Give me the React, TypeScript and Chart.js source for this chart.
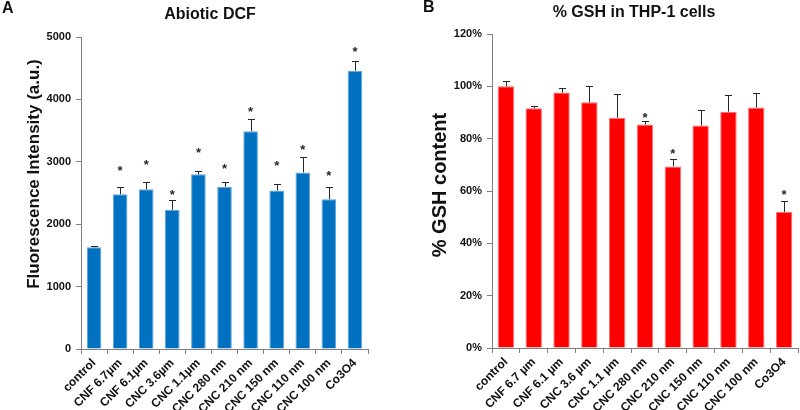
import React, { useEffect, useRef } from "react";
import { Chart, registerables } from "chart.js";
Chart.register(...registerables);

const FONT = "'Liberation Sans', Arial, Helvetica, sans-serif";

const categoriesA = ["control", "CNF 6.7µm", "CNF 6.1µm", "CNC 3.6µm", "CNC 1.1µm", "CNC 280 nm", "CNC 210 nm", "CNC 150 nm", "CNC 110 nm", "CNC 100 nm", "Co3O4"];
const valuesA = [1630, 2480, 2560, 2230, 2800, 2600, 3490, 2540, 2830, 2400, 4460];
const errorsA = [20, 115, 120, 150, 50, 80, 190, 110, 245, 190, 160];
const starsA = [null, 2900, 3000, 2520, 3190, 2940, 3850, 2980, 3240, 2830, 4820];
const ticksA = [0, 1000, 2000, 3000, 4000, 5000];

const categoriesB = ["control", "CNF 6.7 µm", "CNF 6.1 µm", "CNC 3.6 µm", "CNC 1.1 µm", "CNC 280 nm", "CNC 210 nm", "CNC 150 nm", "CNC 110 nm", "CNC 100 nm", "Co3O4"];
const valuesB = [100, 91.6, 97.6, 93.9, 88.0, 85.4, 69.4, 85.0, 90.3, 91.9, 52.0];
const errorsB = [1.9, 1.0, 1.6, 6.1, 9.0, 1.4, 2.8, 6.1, 6.2, 5.5, 4.2];
const starsB = [null, null, null, null, null, 89.2, 75.4, null, null, null, 59.8];
const ticksB = [0, 20, 40, 60, 80, 100, 120];

type PanelCfg = {
  key: string;
  categories: string[];
  values: number[];
  errors: number[];
  stars: (number | null)[];
  ticks: number[];
  percent: boolean;
  color: string;
  edge: string;
  barPct: number;
  title: string;
  titleX: number;
  titleY: number;
  panel: string;
  panelX: number;
  panelY: number;
  yTitle: string;
  yTitleSize: number;
  yTitleX: number;
  yTitleY: number;
  padLeft: number;
  padRight: number;
  padTop: number;
  yWidth: number;
  xHeight: number;
};

const makeOverlay = (cfg: PanelCfg) => ({
  id: "overlay" + cfg.key,
  afterDatasetsDraw(chart: any) {
    const ctx = chart.ctx;
    const meta = chart.getDatasetMeta(0);
    const y = chart.scales.y;
    ctx.save();
    ctx.strokeStyle = "#262626";
    ctx.fillStyle = "#262626";
    ctx.lineWidth = 1;
    cfg.values.forEach((v, i) => {
      const bar = meta.data[i];
      const x = Math.round(bar.x) + 0.5;
      const y0 = y.getPixelForValue(v);
      const y1 = Math.round(y.getPixelForValue(v + cfg.errors[i])) + 0.5;
      ctx.beginPath();
      ctx.moveTo(x, y0);
      ctx.lineTo(x, y1);
      ctx.moveTo(x - 3.5, y1);
      ctx.lineTo(x + 3.5, y1);
      ctx.stroke();
      const s = cfg.stars[i];
      if (s != null) {
        ctx.font = `bold 13px ${FONT}`;
        ctx.textAlign = "center";
        ctx.textBaseline = "alphabetic";
        ctx.fillText("*", bar.x, y.getPixelForValue(s) + 0.57 * 13);
      }
    });
    ctx.restore();
  },
  afterDraw(chart: any) {
    const ctx = chart.ctx;
    ctx.save();
    ctx.fillStyle = "#111";
    ctx.textBaseline = "middle";
    ctx.textAlign = "center";
    ctx.font = `bold 16px ${FONT}`;
    ctx.fillText(cfg.title, cfg.titleX, cfg.titleY);
    ctx.textAlign = "left";
    ctx.font = `bold 16px ${FONT}`;
    ctx.fillText(cfg.panel, cfg.panelX, cfg.panelY);
    ctx.translate(cfg.yTitleX, cfg.yTitleY);
    ctx.rotate(-Math.PI / 2);
    ctx.textAlign = "center";
    ctx.font = `bold ${cfg.yTitleSize}px ${FONT}`;
    ctx.fillText(cfg.yTitle, 0, 0);
    ctx.restore();
  },
});

const Panel: React.FC<{ cfg: PanelCfg }> = ({ cfg }) => {
  const ref = useRef<HTMLCanvasElement | null>(null);
  useEffect(() => {
    if (!ref.current) return;
    const axisColor = "#7f7f7f";
    const chart = new Chart(ref.current, {
      type: "bar",
      data: {
        labels: cfg.categories,
        datasets: [
          {
            data: cfg.values,
            backgroundColor: cfg.color,
            borderColor: cfg.edge,
            borderWidth: 1,
            barPercentage: cfg.barPct,
            categoryPercentage: 1,
          },
        ],
      },
      options: {
        responsive: false,
        animation: false,
        layout: { padding: { left: cfg.padLeft, right: cfg.padRight, top: cfg.padTop, bottom: 0 } },
        plugins: { legend: { display: false }, tooltip: { enabled: false }, title: { display: false } },
        scales: {
          x: {
            grid: { drawOnChartArea: false, tickLength: 5, color: axisColor, offset: true },
            border: { color: axisColor },
            ticks: {
              minRotation: 45,
              maxRotation: 45,
              autoSkip: false,
              padding: 2,
              color: "#111",
              font: { family: FONT, size: 12, weight: "bold" },
            },
            afterFit: (s: any) => {
              s.height = cfg.xHeight;
            },
          },
          y: {
            min: cfg.ticks[0],
            max: cfg.ticks[cfg.ticks.length - 1],
            afterBuildTicks: (s: any) => {
              s.ticks = cfg.ticks.map((v) => ({ value: v }));
            },
            grid: { drawOnChartArea: false, tickLength: 5, color: axisColor },
            border: { color: axisColor },
            ticks: {
              padding: 5,
              color: "#111",
              font: { family: FONT, size: 11, weight: "bold" },
              callback: (v: any) => (cfg.percent ? `${v}%` : `${v}`),
            },
            title: { display: false },
            afterFit: (s: any) => {
              s.width = cfg.yWidth;
            },
          },
        },
      } as any,
      plugins: [makeOverlay(cfg)],
    });
    return () => chart.destroy();
  }, [cfg]);
  return <canvas ref={ref} width={400} height={410} style={{ width: 400, height: 410, display: "block" }} />;
};

const cfgA: PanelCfg = {
  key: "A",
  categories: categoriesA,
  values: valuesA,
  errors: errorsA,
  stars: starsA,
  ticks: ticksA,
  percent: false,
  color: "#0070C0",
  edge: "#5ea3dc",
  barPct: 0.56,
  title: "Abiotic DCF",
  titleX: 210,
  titleY: 15,
  panel: "A",
  panelX: 2,
  panelY: 9,
  yTitle: "Fluorescence Intensity (a.u.)",
  yTitleSize: 17,
  yTitleX: 34,
  yTitleY: 174,
  padLeft: 20,
  padRight: 32,
  padTop: 37,
  yWidth: 61,
  xHeight: 61,
};

const cfgB: PanelCfg = {
  key: "B",
  categories: categoriesB,
  values: valuesB,
  errors: errorsB,
  stars: starsB,
  ticks: ticksB,
  percent: true,
  color: "#FF0000",
  edge: "#ff7070",
  barPct: 0.59,
  title: "% GSH in THP-1 cells",
  titleX: 234,
  titleY: 13,
  panel: "B",
  panelX: 23,
  panelY: 8,
  yTitle: "% GSH content",
  yTitleSize: 20,
  yTitleX: 40,
  yTitleY: 185,
  padLeft: 26,
  padRight: 2,
  padTop: 34,
  yWidth: 66,
  xHeight: 62,
};

export default function App() {
  return (
    <div style={{ position: "absolute", left: 0, top: 0, width: 800, height: 410, background: "#fff" }}>
      <div style={{ position: "absolute", left: 0, top: 0 }}>
        <Panel cfg={cfgA} />
      </div>
      <div style={{ position: "absolute", left: 400, top: 0 }}>
        <Panel cfg={cfgB} />
      </div>
    </div>
  );
}
